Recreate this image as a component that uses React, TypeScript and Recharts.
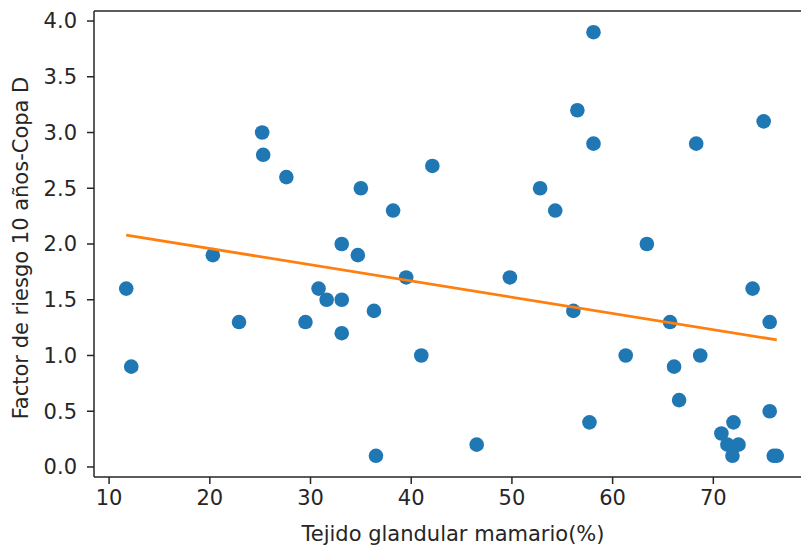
import { ReferenceLine, Scatter, ScatterChart, XAxis, YAxis } from "recharts"

// tejido glandular mamario (%)
const tejido = [
  11.7, 12.2, 20.3, 22.9, 25.2, 25.3, 27.6, 29.5, 30.8, 31.6, 33.1, 33.1, 33.1,
  34.7, 35.0, 36.3, 36.5, 38.2, 39.5, 41.0, 42.1, 46.5, 49.8, 52.8, 54.3, 56.5,
  56.1, 57.7, 58.1, 58.1, 61.3, 63.4, 65.7, 66.1, 66.6, 68.3, 68.7, 70.8, 71.4,
  71.9, 72.0, 72.5, 73.9, 75.0, 75.6, 75.6, 76.0, 76.3,
]

// factor de riesgo 10 años - Copa D
const riesgo = [
  1.6, 0.9, 1.9, 1.3, 3.0, 2.8, 2.6, 1.3, 1.6, 1.5, 2.0, 1.5, 1.2,
  1.9, 2.5, 1.4, 0.1, 2.3, 1.7, 1.0, 2.7, 0.2, 1.7, 2.5, 2.3, 3.2,
  1.4, 0.4, 3.9, 2.9, 1.0, 2.0, 1.3, 0.9, 0.6, 2.9, 1.0, 0.3, 0.2,
  0.1, 0.4, 0.2, 1.6, 3.1, 1.3, 0.5, 0.1, 0.1,
]

// recta de regresion (extremos)
const rectaX = [11.7, 76.3]
const rectaY = [2.08, 1.14]

const xTicks = [10, 20, 30, 40, 50, 60, 70]
const yTicks = [0, 0.5, 1, 1.5, 2, 2.5, 3, 3.5, 4]

const puntos = tejido.map((x, i) => ({ x, y: riesgo[i] }))
const recta = rectaX.map((x, i) => ({ x, y: rectaY[i] }))

const font = "DejaVu Sans"
const ink = "#262626"
const fs = 21
const tickStyle = { fontFamily: font, fontSize: fs, fill: ink }

export default function App() {
  return (
    <div
      style={{
        position: "absolute",
        left: 0,
        top: 0,
        width: 801,
        height: 548,
        overflow: "hidden",
        background: "#fff",
      }}
    >
      <ScatterChart
        width={812}
        height={548}
        margin={{ top: 11, right: 2, bottom: 0, left: 0 }}
      >
        <XAxis
          type="number"
          dataKey="x"
          domain={[8.5, 79.6]}
          ticks={xTicks}
          allowDataOverflow
          height={71}
          tickSize={7}
          tickMargin={6}
          stroke={ink}
          axisLine={{ stroke: ink, strokeWidth: 1.5 }}
          tickLine={{ stroke: ink, strokeWidth: 1.5 }}
          tick={tickStyle}
          label={{
            content: () => (
              <text
                x={453}
                y={541}
                textAnchor="middle"
                fontFamily={font}
                fontSize={fs}
                fill={ink}
              >
                Tejido glandular mamario(%)
              </text>
            ),
          }}
        />
        <YAxis
          type="number"
          dataKey="y"
          domain={[-0.09, 4.09]}
          ticks={yTicks}
          allowDataOverflow
          width={94}
          tickSize={7}
          tickMargin={10}
          tickFormatter={(v: number) => v.toFixed(1)}
          axisLine={{ stroke: ink, strokeWidth: 1.5 }}
          tickLine={{ stroke: ink, strokeWidth: 1.5 }}
          tick={tickStyle}
          label={{
            content: () => (
              <text
                x={21}
                y={248}
                transform="rotate(-90 21 248)"
                textAnchor="middle"
                dominantBaseline="central"
                fontFamily={font}
                fontSize={fs}
                fill={ink}
              >
                Factor de riesgo 10 años-Copa D
              </text>
            ),
          }}
        />
        <ReferenceLine y={4.09} stroke={ink} strokeWidth={1.5} />
        <ReferenceLine x={79.6} stroke={ink} strokeWidth={1.5} />
        <Scatter
          data={puntos}
          fill="#1f77b4"
          isAnimationActive={false}
          shape={(p: any) => <circle cx={p.cx} cy={p.cy} r={7.3} fill="#1f77b4" />}
        />
        <Scatter
          data={recta}
          isAnimationActive={false}
          line={{ stroke: "#ff7f0e", strokeWidth: 2.8 }}
          lineType="joint"
          shape={() => <g />}
        />
      </ScatterChart>
    </div>
  )
}
